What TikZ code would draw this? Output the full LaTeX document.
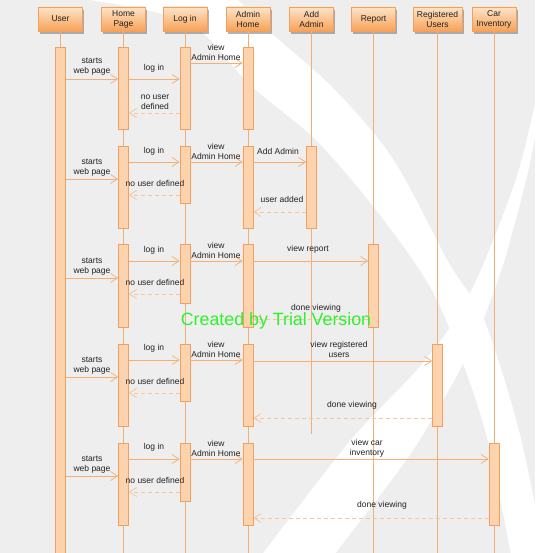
\documentclass[tikz,border=0pt]{standalone}
\usepackage{fontspec}
\setmainfont{Liberation Sans}
\usetikzlibrary{arrows.meta,calc,shadows}
\definecolor{bg}{HTML}{EEEEEE}
\definecolor{lifec}{HTML}{F0AE78}
\definecolor{barfill}{HTML}{FDD3AE}
\definecolor{bardraw}{HTML}{F0A060}
\definecolor{msgc}{HTML}{F5AE74}
\definecolor{retc}{HTML}{F8C49A}
\definecolor{headtop}{HTML}{FEE4CA}
\definecolor{headbot}{HTML}{F8A256}
\definecolor{txt}{HTML}{222222}
\definecolor{wm}{HTML}{2EF22E}
\newcommand\mkbar[4]{\node[actbar, minimum height={(#4-#3)*1pt}] (#1) at (#2,{(#3+#4)/2}) {};}
\begin{document}
\begin{tikzpicture}[x=1pt,y=-1pt,
  head/.style={draw=bardraw, line width=0.8pt, top color=headtop, bottom color=headbot,
    minimum height=24pt, minimum width=44pt, inner sep=0pt, font=\fontsize{8.5}{10}\selectfont,
    align=center, text=txt, drop shadow={shadow xshift=1.5pt, shadow yshift=-3pt, fill=black!60, opacity=0.5}},
  actbar/.style={draw=bardraw, fill=barfill, line width=0.7pt, minimum width=10pt, inner sep=0pt},
  life/.style={draw=lifec, line width=0.8pt},
  msg/.style={draw=msgc, line width=0.7pt, -{Straight Barb[length=7pt,width=9pt]}},
  ret/.style={draw=retc, line width=0.8pt, dash pattern=on 4pt off 3pt, -{Straight Barb[length=7pt,width=9pt]}},
  lbl/.style={font=\fontsize{8.5}{10}\selectfont, align=center, text=txt, inner sep=0pt}]
\useasboundingbox (0,0) rectangle (535,553);
\clip (0,0) rectangle (535,553);
\fill[bg] (0,0) rectangle (535,553);
% background swooshes
\fill[white] plot[smooth] coordinates {(235,-3) (270,32) (333,88) (393,159) (450,265) (483,317) (517,423) (540,530) (545,560)}
  -- plot[smooth] coordinates {(512,560) (483,423) (437,300) (383,219) (317,141) (250,85) (187,22) (70,-3)} -- cycle;
\fill[white] plot[smooth] coordinates {(258,560) (350,441) (417,370) (457,317) (483,265) (517,176) (537,95)}
  -- plot[smooth] coordinates {(540,110) (527,176) (503,265) (477,335) (450,388) (407,459) (330,560)} -- cycle;
% heads
\node[head] (hU) at (60.5,19) {User};
\node[head] (hHP) at (123.5,19) {Home\\Page};
\node[head] (hLI) at (185,19) {Log in};
\node[head] (hAH) at (248,19) {Admin\\Home};
\node[head] (hAA) at (311.5,19) {Add\\Admin};
\node[head] (hRP) at (373.5,19) {Report};
\node[head, minimum width=49pt] (hRU) at (437.5,19) {Registered\\Users};
\node[head] (hCI) at (494,19) {Car\\Inventory};
% lifeline ends
\coordinate (eU) at (60.5,560);
\coordinate (eHP) at (123.5,560);
\coordinate (eLI) at (185,560);
\coordinate (eAH) at (248,560);
\coordinate (eAA) at (311.5,434);
\coordinate (eRP) at (373.5,560);
\coordinate (eRU) at (437.5,560);
\coordinate (eCI) at (494,560);
\foreach \n in {U,HP,LI,AH,AA,RP,RU,CI} {\draw[life] (h\n.south) -- (e\n);}
% activation bars
\mkbar{bU}{60.5}{47}{560}
\mkbar{hp1}{123.5}{47}{129}
\mkbar{li1}{185}{47}{129}
\mkbar{ah1}{248}{47}{129}
\mkbar{hp2}{123.5}{146}{228}
\mkbar{li2}{185}{146}{203}
\mkbar{ah2}{248}{146}{228}
\mkbar{aa2}{311.5}{146}{228}
\mkbar{hp3}{123.5}{244}{327}
\mkbar{li3}{185}{244}{303}
\mkbar{ah3}{248}{244}{327}
\mkbar{rp3}{373.5}{244}{327}
\mkbar{hp4}{123.5}{344}{426}
\mkbar{li4}{185}{344}{401}
\mkbar{ah4}{248}{344}{426}
\mkbar{ru4}{437.5}{344}{426}
\mkbar{hp5}{123.5}{443}{525}
\mkbar{li5}{185}{443}{501}
\mkbar{ah5}{248}{443}{525}
\mkbar{ci5}{494}{443}{525}
% block 1
\draw[msg] (bU.east |- 0,79) -- (hp1.west |- 0,79);
\draw[msg] (hp1.east |- 0,79) -- (li1.west |- 0,79);
\draw[msg] (li1.east |- 0,63) -- (ah1.west |- 0,63);
\draw[ret] (li1.west |- 0,113) -- (hp1.east |- 0,113);
\node[lbl] (t11) at (92,67) {starts\\web page};
\node[lbl] (t12) at (154,68) {log in};
\node[lbl] (t13) at (216,52) {view\\Admin Home};
\node[lbl] (t14) at (155,102) {no user\\defined};
% block 2
\draw[msg] (bU.east |- 0,179) -- (hp2.west |- 0,179);
\draw[msg] (hp2.east |- 0,162) -- (li2.west |- 0,162);
\draw[msg] (li2.east |- 0,162) -- (ah2.west |- 0,162);
\draw[msg] (ah2.east |- 0,162) -- (aa2.west |- 0,162);
\draw[ret] (li2.west |- 0,195) -- (hp2.east |- 0,195);
\draw[ret] (aa2.west |- 0,212) -- (ah2.east |- 0,212);
\node[lbl] (t21) at (92,168) {starts\\web page};
\node[lbl] (t22) at (154,151) {log in};
\node[lbl] (t23) at (216,151.5) {view\\Admin Home};
\node[lbl] (t24) at (278,151) {Add Admin};
\node[lbl] (t25) at (155,183) {no user defined};
\node[lbl] (t26) at (282,199) {user added};
% block 3
\draw[msg] (bU.east |- 0,278) -- (hp3.west |- 0,278);
\draw[msg] (hp3.east |- 0,261) -- (li3.west |- 0,261);
\draw[msg] (li3.east |- 0,261) -- (ah3.west |- 0,261);
\draw[msg] (ah3.east |- 0,261) -- (rp3.west |- 0,261);
\draw[ret] (li3.west |- 0,294) -- (hp3.east |- 0,294);
\draw[ret] (rp3.west |- 0,319) -- (ah3.east |- 0,319);
\node[lbl] (t31) at (92,267) {starts\\web page};
\node[lbl] (t32) at (154,250) {log in};
\node[lbl] (t33) at (216,250) {view\\Admin Home};
\node[lbl] (t34) at (308,249) {view report};
\node[lbl] (t35) at (155,282) {no user defined};
\node[lbl] (t36) at (316,308) {done viewing};
% block 4
\draw[msg] (bU.east |- 0,377) -- (hp4.west |- 0,377);
\draw[msg] (hp4.east |- 0,360) -- (li4.west |- 0,360);
\draw[msg] (li4.east |- 0,360) -- (ah4.west |- 0,360);
\draw[msg] (ah4.east |- 0,361) -- (ru4.west |- 0,361);
\draw[ret] (li4.west |- 0,393) -- (hp4.east |- 0,393);
\draw[ret] (ru4.west |- 0,418) -- (ah4.east |- 0,418);
\node[lbl] (t41) at (92,366) {starts\\web page};
\node[lbl] (t42) at (154,348) {log in};
\node[lbl] (t43) at (216,349) {view\\Admin Home};
\node[lbl] (t44) at (339,349) {view registered\\users};
\node[lbl] (t45) at (155,381) {no user defined};
\node[lbl] (t46) at (352,405) {done viewing};
% block 5
\draw[msg] (bU.east |- 0,476) -- (hp5.west |- 0,476);
\draw[msg] (hp5.east |- 0,459) -- (li5.west |- 0,459);
\draw[msg] (li5.east |- 0,459) -- (ah5.west |- 0,459);
\draw[msg] (ah5.east |- 0,459) -- (ci5.west |- 0,459);
\draw[ret] (li5.west |- 0,492) -- (hp5.east |- 0,492);
\draw[ret] (ci5.west |- 0,518) -- (ah5.east |- 0,518);
\node[lbl] (t51) at (92,465) {starts\\web page};
\node[lbl] (t52) at (154,447) {log in};
\node[lbl] (t53) at (216,448) {view\\Admin Home};
\node[lbl] (t54) at (367,448.5) {view car\\inventory};
\node[lbl] (t55) at (155,480) {no user defined};
\node[lbl] (t56) at (382,505) {done viewing};
% watermark
\node[font=\fontsize{17.8}{20}\selectfont, text=wm, inner sep=0pt] (wmk) at (276,321) {Created by Trial Version};
\end{tikzpicture}
\end{document}
